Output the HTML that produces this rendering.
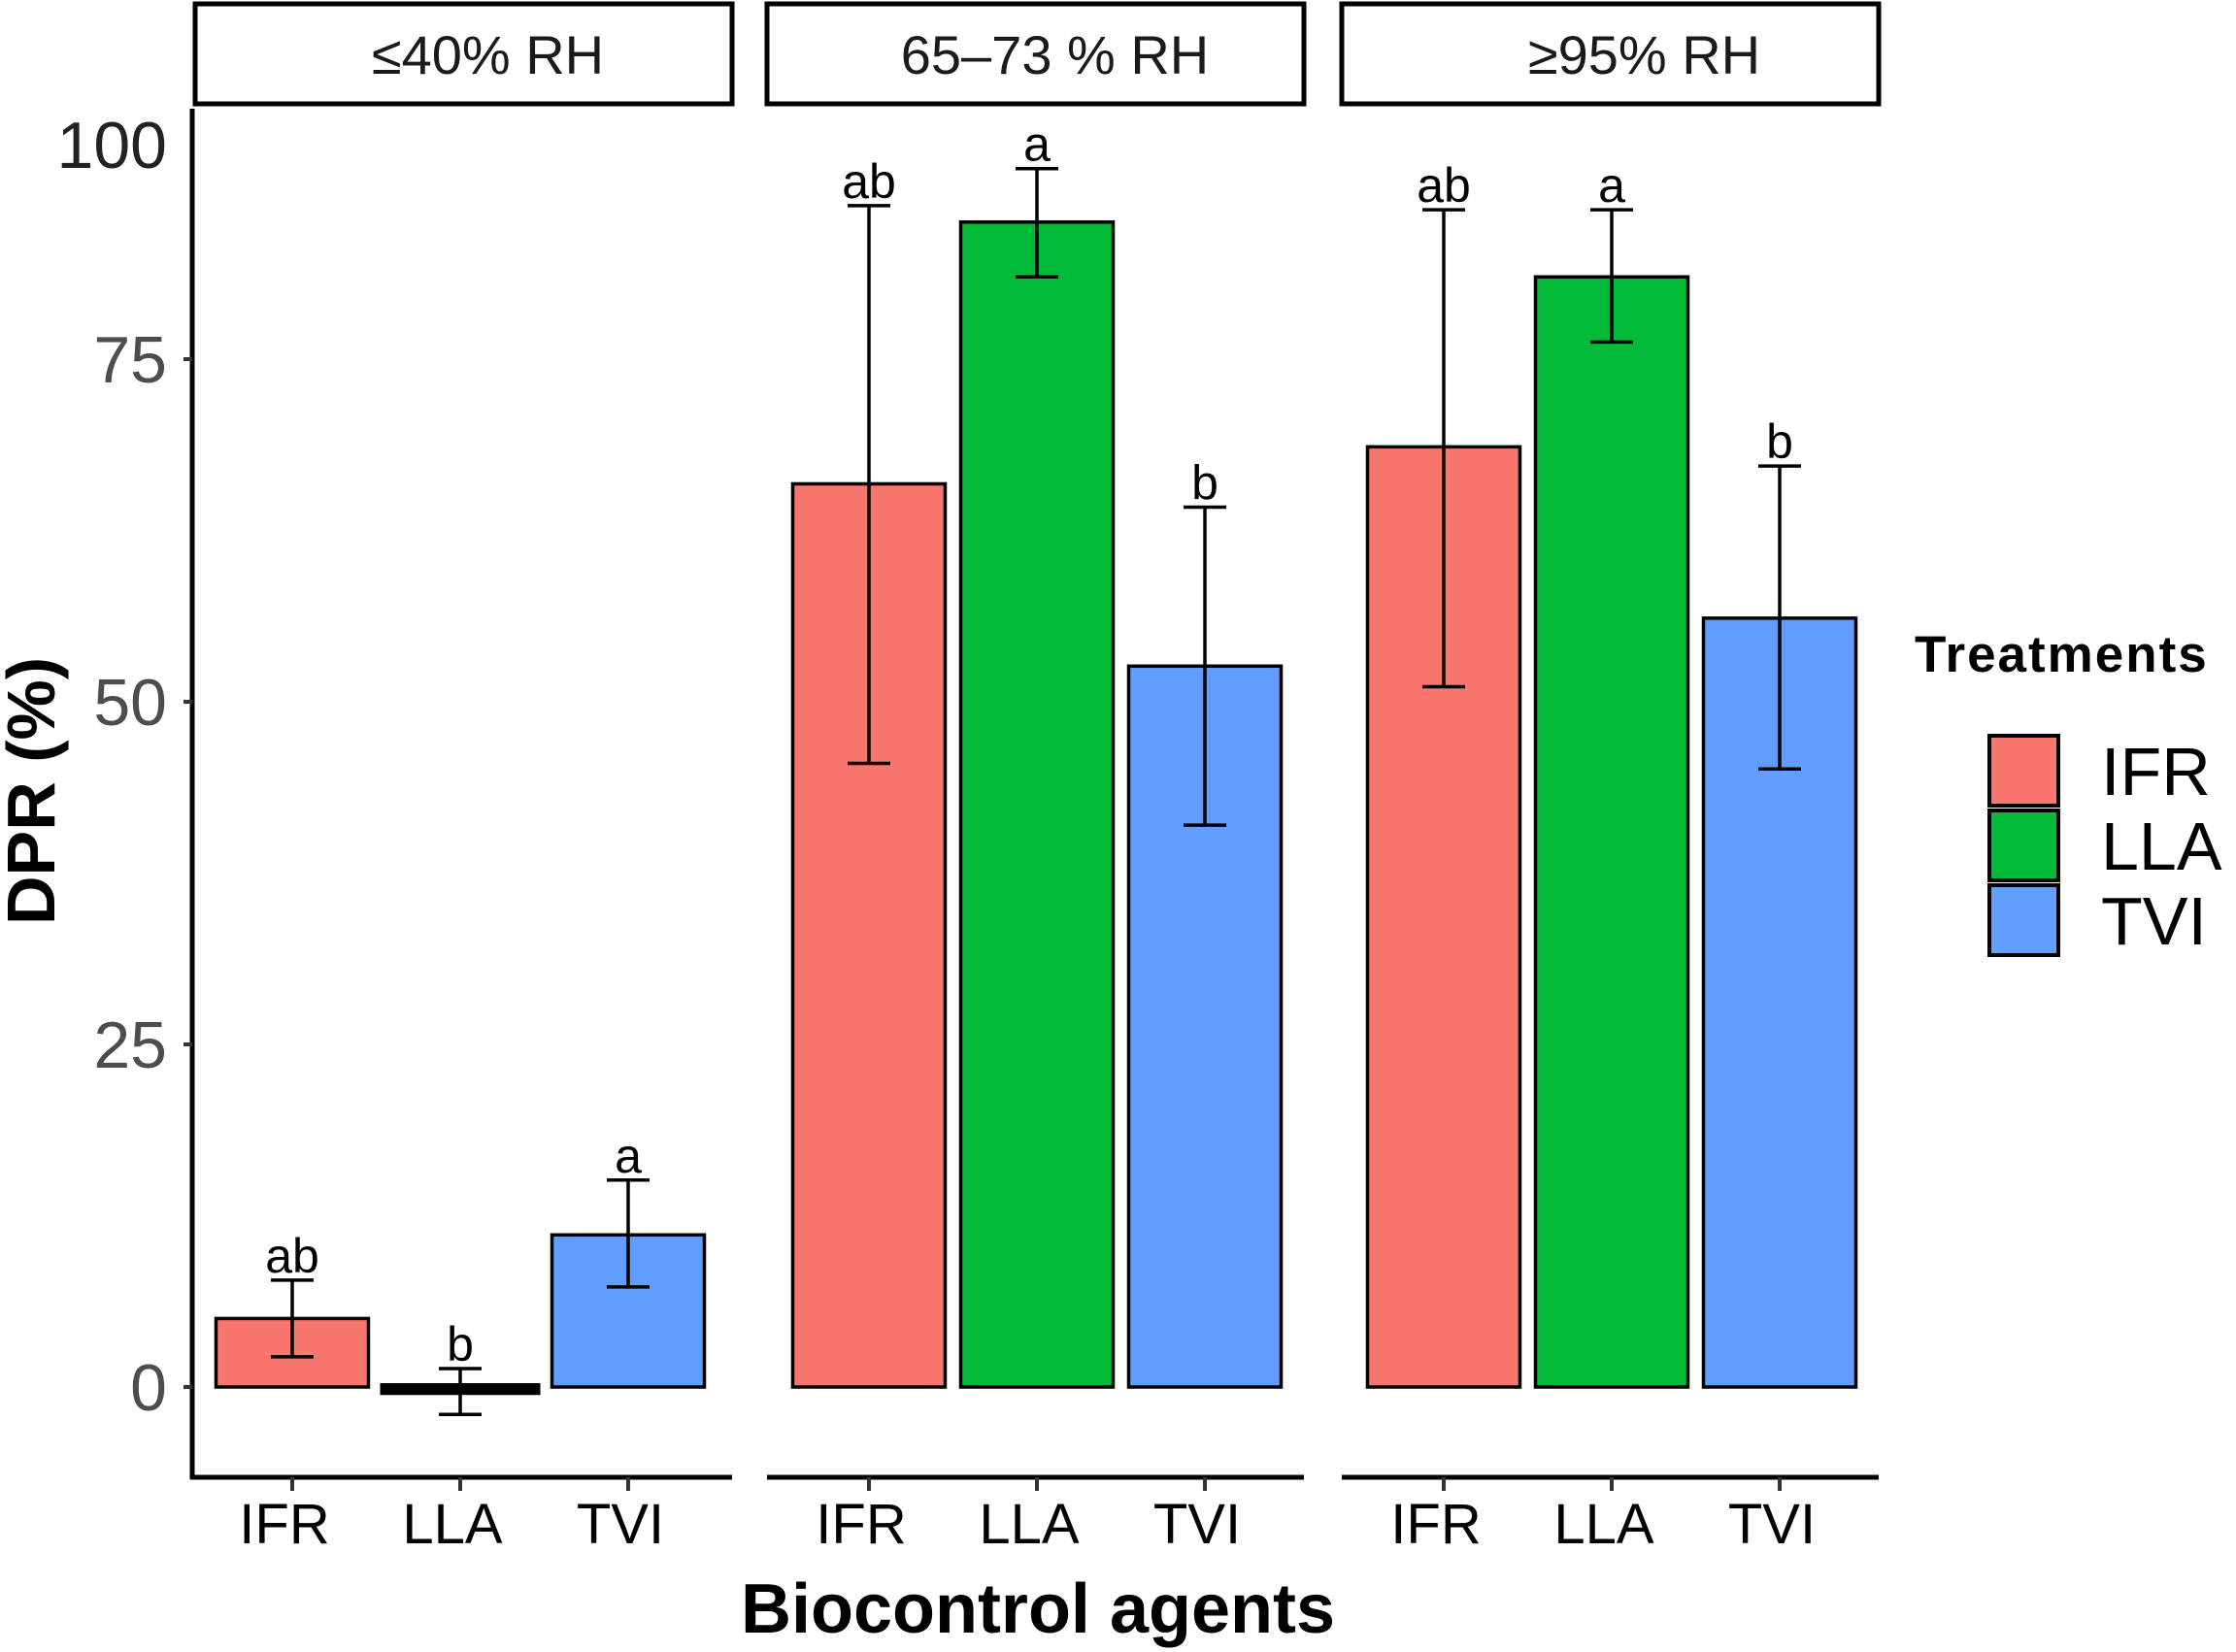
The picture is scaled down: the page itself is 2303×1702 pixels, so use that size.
<!DOCTYPE html>
<html><head><meta charset="utf-8"><style>
html,body{margin:0;padding:0;background:#fff}
svg{display:block}
text{font-family:"Liberation Sans",Arial,sans-serif}
</style></head><body>
<svg id="chart" width="2303" height="1702" viewBox="0 0 2303 1702" xmlns="http://www.w3.org/2000/svg">
<g id="plot"></g>
</svg>
<script>
const panels = ["≤40% RH", "65–73 % RH", "≥95% RH"];
const categories = ["IFR", "LLA", "TVI"];
const colors = ["#F8766D", "#00BA38", "#619CFF"];
const valuesP1 = [5.0, -0.3, 11.1];
const valuesP2 = [65.9, 85.0, 52.6];
const valuesP3 = [68.6, 81.0, 56.1];
const upperP1 = [7.8, 1.35, 15.1];
const upperP2 = [86.2, 88.9, 64.2];
const upperP3 = [85.9, 85.9, 67.2];
const lowerP1 = [2.2, -2.0, 7.3];
const lowerP2 = [45.5, 81.0, 41.0];
const lowerP3 = [51.1, 76.25, 45.1];
const lettersP1 = ["ab", "b", "a"];
const lettersP2 = ["ab", "a", "b"];
const lettersP3 = ["ab", "a", "b"];
const yTicks = [0, 25, 50, 75];
const yTickLabels = ["0", "25", "50", "75"];

const NS = "http://www.w3.org/2000/svg";
const g = document.getElementById('plot');
function mk(tag, attrs, parent) {
  const e = document.createElementNS(NS, tag);
  for (const k in attrs) e.setAttribute(k, attrs[k]);
  (parent || g).appendChild(e);
  return e;
}
const y0 = 1429, unit = 14.12;
function yScale(v) { return y0 - v * unit; }
const panelLeft = [201, 790, 1382];
const barOffset = [100, 105, 105];
const stripTextShift = [25, 20, 35];
const panelWidth = 553;
const barW = 157, step = 173;
function xScale(p, i) { return panelLeft[p] + barOffset[p] + i * step; }

const values = [valuesP1, valuesP2, valuesP3];
const uppers = [upperP1, upperP2, upperP3];
const lowers = [lowerP1, lowerP2, lowerP3];
const letters = [lettersP1, lettersP2, lettersP3];

let e = mk('line', {x1:198, y1:112, x2:198, y2:1524, stroke:'#000', 'stroke-width':5});


yTicks.forEach((t, i) => {
  let tk = mk('line', {x1:189, x2:198, y1:yScale(t), y2:yScale(t), stroke:'#333', 'stroke-width':4});
  
  
  let tl = mk('text', {x:172, y:yScale(t)+24, 'font-size':68, 'text-anchor':'end', fill:'#4d4d4d'});
  tl.textContent = yTickLabels[i];
  
  
});
e = mk('text', {x:172, y:173, 'font-size':68, 'text-anchor':'end', fill:'#222'});
e.textContent = "100";



panels.forEach((pn, p) => {
  const L = panelLeft[p];
  let s = mk('rect', {x:L, y:4, width:panelWidth, height:103, fill:'#fff', stroke:'#000', 'stroke-width':5});
  
  
  let st = mk('text', {x:L + panelWidth/2 + stripTextShift[p], y:76, 'font-size':56, 'text-anchor':'middle', fill:'#1a1a1a'});
  st.textContent = pn;
  
  
  let ax = mk('line', {x1:(p===0?196:L), x2:L+panelWidth, y1:1522, y2:1522, stroke:'#000', 'stroke-width':5});
  
  
  categories.forEach((c, i) => {
    const cx = xScale(p, i);
    const v = values[p][i];
    const top = Math.min(yScale(v), y0), h = Math.abs(yScale(v) - y0);
    let b = mk('rect', {x:cx - barW/2, y:top, width:barW, height:Math.max(h, 1), fill:colors[i], stroke:'#000', 'stroke-width':(h<5?8:3.5)});
    
    
    const yu = yScale(uppers[p][i]), yl = yScale(lowers[p][i]);
    let eg = mk('g', {stroke:'#000', 'stroke-width':3.5});
    
    
    mk('line', {x1:cx, x2:cx, y1:yu, y2:yl}, eg);
    mk('line', {x1:cx-22, x2:cx+22, y1:yu, y2:yu}, eg);
    mk('line', {x1:cx-22, x2:cx+22, y1:yl, y2:yl}, eg);
    let lt = mk('text', {x:cx, y:yu - 8, 'font-size':50, 'text-anchor':'middle', fill:'#000'});
    lt.textContent = letters[p][i];
    
    
    let xt = mk('line', {x1:cx, x2:cx, y1:1522, y2:1536, stroke:'#333', 'stroke-width':4});
    
    
    let xl = mk('text', {x:cx - 8, y:1590, 'font-size':58, 'text-anchor':'middle', fill:'#000'});
    xl.textContent = c;
    
    
  });
});

e = mk('text', {x:1069, y:1682, 'font-size':72, 'font-weight':'bold', 'text-anchor':'middle', fill:'#000'});
e.textContent = "Biocontrol agents";


e = mk('text', {x:0, y:0, 'font-size':70, 'font-weight':'bold', 'text-anchor':'middle', fill:'#000', transform:'translate(56,815) rotate(-90)'});
e.textContent = "DPR (%)";



const lg = mk('g', {});


e = mk('text', {x:1972, y:692, 'font-size':53, 'font-weight':'bold', 'letter-spacing':2, fill:'#000'}, lg);
e.textContent = "Treatments";


categories.forEach((c, i) => {
  const ky = 758 + i * 77;
  let r = mk('rect', {x:2049, y:ky, width:71, height:72, fill:colors[i], stroke:'#000', 'stroke-width':4}, lg);
  
  
  let t = mk('text', {x:2164, y:ky + 61, 'font-size':70, fill:'#000'}, lg);
  t.textContent = c;
  
  
});
</script>
</body></html>
